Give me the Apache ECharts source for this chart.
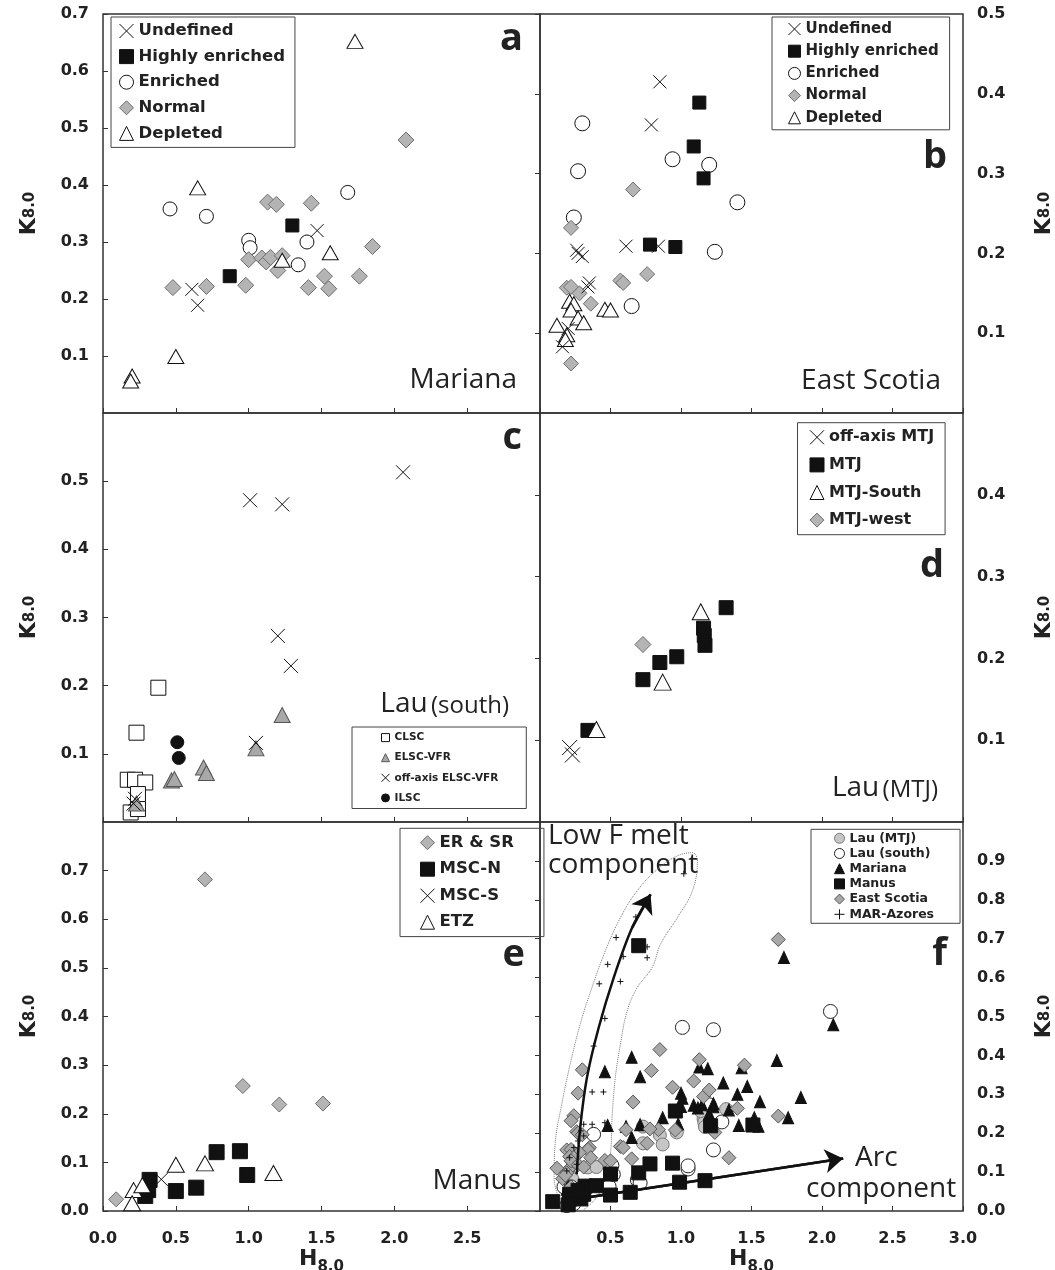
<!DOCTYPE html>
<html>
<head>
<meta charset="utf-8">
<script src="https://cdn.jsdelivr.net/npm/echarts@6/dist/echarts.min.js"></script>
<style>
  html, body { margin: 0; padding: 0; background: #fff; }
  #chart { width: 1055px; height: 1270px; }
</style>
</head>
<body>
<div id="chart"></div>
<script>
// ---- data: [H8.0, K8.0] pairs ----
// a - Mariana
const aUndefined = [[0.61,0.217],[0.65,0.189],[1.47,0.32]];
const aHighly = [[0.87,0.24],[1.30,0.329]];
const aEnriched = [[0.46,0.358],[0.71,0.345],[1.00,0.303],[1.01,0.29],[1.40,0.30],[1.34,0.26],[1.68,0.387]];
const aNormal = [[0.48,0.22],[0.71,0.222],[0.98,0.224],[1.00,0.269],[1.09,0.272],[1.12,0.265],[1.15,0.273],[1.23,0.276],
  [1.20,0.25],[1.13,0.37],[1.19,0.366],[1.43,0.368],[1.41,0.22],[1.52,0.24],[1.55,0.218],[1.76,0.24],[1.85,0.292],[2.08,0.479]];
const aDepleted = [[1.73,0.652],[0.65,0.395],[1.56,0.281],[1.23,0.268],[0.50,0.099],[0.20,0.065],[0.19,0.056]];

// b - East Scotia
const bUndefined = [[0.85,0.415],[0.79,0.361],[0.61,0.209],[0.84,0.209],[0.26,0.204],[0.27,0.200],[0.30,0.196],
  [0.35,0.163],[0.34,0.158],[0.20,0.106],[0.16,0.083]];
const bHighly = [[1.13,0.389],[1.09,0.334],[1.16,0.294],[0.78,0.211],[0.96,0.208]];
const bEnriched = [[0.30,0.363],[0.27,0.303],[0.94,0.318],[1.20,0.311],[1.40,0.264],[1.24,0.202],[0.65,0.134],[0.24,0.245]];
const bNormal = [[0.66,0.28],[0.22,0.232],[0.57,0.166],[0.59,0.163],[0.76,0.174],[0.19,0.157],[0.22,0.158],
  [0.28,0.15],[0.36,0.137],[0.22,0.062]];
const bDepleted = [[0.21,0.14],[0.24,0.137],[0.22,0.129],[0.27,0.119],[0.31,0.113],[0.12,0.11],[0.19,0.098],
  [0.18,0.092],[0.46,0.13],[0.50,0.129]];

// c - Lau (south)
const cCLSC = [[0.38,0.197],[0.23,0.131],[0.17,0.062],[0.22,0.062],[0.29,0.058],[0.24,0.041],[0.19,0.014],[0.24,0.019]];
const cELSC = [[1.23,0.157],[1.05,0.108],[0.69,0.08],[0.71,0.072],[0.47,0.061],[0.49,0.063],[0.23,0.027]];
const cOffAxis = [[1.01,0.472],[1.23,0.466],[2.06,0.513],[1.20,0.273],[1.29,0.229],[1.05,0.116],[0.22,0.034],[0.21,0.027]];
const cILSC = [[0.51,0.117],[0.52,0.094]];

// d - Lau (MTJ)
const dOffAxis = [[0.21,0.091],[0.23,0.082]];
const dMTJ = [[0.34,0.112],[0.73,0.174],[0.85,0.195],[0.97,0.202],[1.16,0.237],[1.165,0.228],[1.17,0.216],[1.32,0.262]];
const dSouth = [[0.40,0.113],[0.87,0.171],[1.14,0.257]];
const dWest = [[0.73,0.217]];

// e - Manus
const eERSR = [[0.70,0.682],[0.96,0.257],[1.21,0.219],[1.51,0.221],[0.09,0.024]];
const eMSCN = [[0.78,0.121],[0.94,0.123],[0.99,0.074],[0.64,0.048],[0.50,0.041],[0.32,0.064],[0.29,0.031],[0.31,0.043]];
const eMSCS = [[0.40,0.065]];
const eETZ = [[0.50,0.095],[0.70,0.098],[1.17,0.078],[0.21,0.043],[0.20,0.016],[0.27,0.053]];

// f - compilation
const fScotiaExtra = [[1.45,0.375],[1.69,0.698],[1.69,0.244],[1.34,0.137]];
const fAzores = [[1.02,0.867],[0.68,0.756],[0.54,0.703],[0.76,0.679],[0.76,0.651],[0.59,0.654],[0.48,0.634],
  [0.42,0.584],[0.57,0.59],[0.46,0.495],[0.38,0.424],[0.37,0.306],[0.45,0.306],[0.31,0.223],[0.37,0.223],
  [0.29,0.206],[0.31,0.193],[0.27,0.18],[0.24,0.163],[0.21,0.137],[0.26,0.12],[0.19,0.103],[0.46,0.227]];
const lowMeltArrow = [[0.26,0.094],[0.285,0.214],[0.333,0.343],[0.416,0.471],[0.523,0.60],[0.653,0.728],[0.784,0.814]];
const arcArrow = [[0.285,0.032],[2.15,0.135]];
const azoresOutline = [[0.166,0.004],[0.100,0.086],[0.107,0.171],[0.154,0.274],[0.214,0.377],[0.285,0.480],
  [0.368,0.574],[0.463,0.668],[0.570,0.754],[0.689,0.823],[0.831,0.878],[0.974,0.913],[1.081,0.921],[1.116,0.900],
  [1.081,0.823],[0.974,0.754],[0.855,0.686],[0.796,0.626],[0.689,0.574],[0.618,0.514],[0.570,0.428],[0.534,0.343],
  [0.511,0.240],[0.499,0.146],[0.451,0.069],[0.356,0.017],[0.238,-0.004],[0.166,0.004]];

const yMaxes = [0.7, 0.5, 0.6, 0.5, 0.8, 1.0];

// ---- styling ----
const FONT = '"DejaVu Sans", Verdana, sans-serif';
const SANS = '"Open Sans", "Noto Sans", sans-serif';
const INK = '#222';
const CROSS = 'path://M0,0L10,10M10,0L0,10';
const PLUS = 'path://M5,0L5,10M0,5L10,5';

// fixed panel boxes; outerBoundsMode off so v6 does not shrink them to fit names
const grids = [
  { left: 103, top: 14, width: 437, height: 399 },
  { left: 540, top: 14, width: 423, height: 399 },
  { left: 103, top: 413, width: 437, height: 409 },
  { left: 540, top: 413, width: 423, height: 409 },
  { left: 103, top: 822, width: 437, height: 389 },
  { left: 540, top: 822, width: 423, height: 389 }
].map(g => ({
  ...g, show: true, borderColor: '#333', borderWidth: 1.5, backgroundColor: 'transparent',
  containLabel: false, outerBoundsMode: 'none'
}));

const fmt = v => v.toFixed(1);
const kName = {
  rich: {
    k: { fontFamily: FONT, fontWeight: 'bold', fontSize: 22, color: INK, lineHeight: 26, verticalAlign: 'bottom' },
    s: { fontFamily: FONT, fontWeight: 'bold', fontSize: 15, color: INK, lineHeight: 26, verticalAlign: 'bottom', padding: [0, 0, 2, 0] }
  }
};
const hName = {
  rich: {
    h: { fontFamily: FONT, fontWeight: 'bold', fontSize: 22, color: INK, lineHeight: 27, verticalAlign: 'top' },
    s: { fontFamily: FONT, fontWeight: 'bold', fontSize: 15, color: INK, lineHeight: 27, verticalAlign: 'bottom' }
  }
};
const labelStyle = { color: INK, fontFamily: FONT, fontWeight: 'bold', fontSize: 16, formatter: fmt };

const xAxes = grids.map((g, i) => {
  const labelled = i >= 4;
  return {
    type: 'value', gridIndex: i, min: 0, max: 3, interval: 0.5,
    axisLine: { show: false }, splitLine: { show: false },
    axisTick: { show: true, inside: true, length: 5, lineStyle: { color: '#333' } },
    axisLabel: { show: labelled, margin: 20, ...labelStyle, showMinLabel: i !== 5, showMaxLabel: i !== 4 },
    name: labelled ? '{h|H}{s|8.0}' : '', nameLocation: 'middle', nameGap: 37, nameTextStyle: hName
  };
});

const yAxes = grids.map((g, i) => {
  const right = i % 2 === 1;
  return {
    type: 'value', gridIndex: i, min: 0, max: yMaxes[i], interval: 0.1,
    position: right ? 'right' : 'left',
    axisLine: { show: false }, splitLine: { show: false },
    axisTick: { show: true, inside: true, length: 5, lineStyle: { color: '#333' } },
    axisLabel: { show: true, margin: 14, ...labelStyle, showMinLabel: i >= 4, showMaxLabel: i < 2 },
    name: '{k|K}{s|8.0}', nameLocation: 'middle', nameRotate: 90, nameGap: right ? 66 : 63, nameTextStyle: kName
  };
});

function sc(name, idx, data, symbol, size, fill, stroke) {
  return {
    type: 'scatter', name, xAxisIndex: idx, yAxisIndex: idx, data, symbol, symbolSize: size,
    itemStyle: { color: fill, borderColor: stroke, borderWidth: 1, opacity: 1 },
    emphasis: { disabled: true }, silent: true
  };
}

const GRAY = '#b4b4b4', GRAY_LINE = '#6e6e6e';

const arrowMark = (from, to) => ({
  silent: true, symbol: ['none', 'arrow'], symbolSize: 18, label: { show: false },
  lineStyle: { type: 'solid', width: 2.5, color: '#111' },
  emphasis: { disabled: true },
  data: [[{ coord: from }, { coord: to }]]
});

const series = [
  // a
  sc('Enriched', 0, aEnriched, 'circle', 14, '#fff', '#111'),
  sc('Normal', 0, aNormal, 'diamond', 16, GRAY, GRAY_LINE),
  sc('Highly enriched', 0, aHighly, 'rect', 13, '#111', '#111'),
  sc('Depleted', 0, aDepleted, 'triangle', [16, 14], '#fff', '#111'),
  sc('Undefined', 0, aUndefined, CROSS, 13, '#111', '#111'),
  // b
  sc('Enriched', 1, bEnriched, 'circle', 15, '#fff', '#111'),
  sc('Normal', 1, bNormal, 'diamond', 15, GRAY, GRAY_LINE),
  sc('Highly enriched', 1, bHighly, 'rect', 13, '#111', '#111'),
  sc('Depleted', 1, bDepleted, 'triangle', [16, 14], '#fff', '#111'),
  sc('Undefined', 1, bUndefined, CROSS, 13, '#111', '#111'),
  // c
  sc('CLSC', 2, cCLSC, 'rect', 15, '#fff', '#111'),
  sc('ELSC-VFR', 2, cELSC, 'triangle', [16, 15], '#a8a8a8', '#555'),
  sc('off-axis ELSC-VFR', 2, cOffAxis, CROSS, 14, '#111', '#111'),
  sc('ILSC', 2, cILSC, 'circle', 13, '#111', '#111'),
  // d
  sc('MTJ-west', 3, dWest, 'diamond', 16, GRAY, GRAY_LINE),
  sc('MTJ', 3, dMTJ, 'rect', 14, '#111', '#111'),
  sc('MTJ-South', 3, dSouth, 'triangle', [17, 16], '#fff', '#111'),
  sc('off-axis MTJ', 3, dOffAxis, CROSS, 15, '#111', '#111'),
  // e
  sc('ER & SR', 4, eERSR, 'diamond', 15, GRAY, GRAY_LINE),
  sc('MSC-N', 4, eMSCN, 'rect', 15, '#111', '#111'),
  sc('MSC-S', 4, eMSCS, CROSS, 13, '#111', '#111'),
  sc('ETZ', 4, eETZ, 'triangle', [17, 15], '#fff', '#111'),
  // f
  sc('Lau (MTJ)', 5, [...dOffAxis, ...dMTJ, ...dSouth, ...dWest], 'circle', 13, '#c6c6c6', '#777'),
  sc('Lau (south)', 5, [...cCLSC, ...cELSC, ...cOffAxis, ...cILSC], 'circle', 14, '#fff', '#222'),
  sc('Mariana', 5, [...aUndefined, ...aHighly, ...aEnriched, ...aNormal, ...aDepleted], 'triangle', [11, 12], '#111', '#111'),
  sc('East Scotia', 5, [...bUndefined, ...bHighly, ...bEnriched, ...bNormal, ...bDepleted, ...fScotiaExtra], 'diamond', 14, '#a8a8a8', '#555'),
  sc('Manus', 5, [...eERSR, ...eMSCN, ...eMSCS, ...eETZ], 'rect', 14, '#111', '#111'),
  sc('MAR-Azores', 5, fAzores, PLUS, 6, '#111', '#111'),
  {
    type: 'line', xAxisIndex: 5, yAxisIndex: 5, data: azoresOutline, smooth: 0.4, symbol: 'none', silent: true,
    lineStyle: { type: 'dotted', width: 1, color: '#777' }, z: 1
  },
  {
    type: 'line', xAxisIndex: 5, yAxisIndex: 5, data: lowMeltArrow, smooth: 0.3, symbol: 'none', silent: true,
    lineStyle: { width: 2.5, color: '#111' }, z: 3,
    markLine: arrowMark(lowMeltArrow[lowMeltArrow.length - 2], lowMeltArrow[lowMeltArrow.length - 1])
  },
  {
    type: 'line', xAxisIndex: 5, yAxisIndex: 5, data: arcArrow, symbol: 'none', silent: true, z: 3,
    lineStyle: { width: 2.5, color: '#111' },
    markLine: arrowMark(arcArrow[0], arcArrow[1])
  }
];

function legendBox(names, left, top, o) {
  return {
    orient: 'vertical', left, top, data: names, selectedMode: false,
    itemWidth: o.icon, itemHeight: o.icon, itemGap: o.gap, padding: o.pad,
    borderColor: '#444', borderWidth: 1, borderRadius: 0,
    itemStyle: { borderWidth: 1 },
    textStyle: { fontFamily: FONT, fontWeight: 'bold', fontSize: o.fs, lineHeight: o.lh, color: INK }
  };
}
const fiveTypes = ['Undefined', 'Highly enriched', 'Enriched', 'Normal', 'Depleted'];
const legends = [
  legendBox(fiveTypes, 111, 17, { icon: 14, gap: 7.6, pad: [5, 10, 5, 8], fs: 16.5, lh: 18 }),
  legendBox(fiveTypes, 772, 17, { icon: 12, gap: 6.2, pad: [4, 11, 4, 16], fs: 15, lh: 16 }),
  legendBox(['CLSC', 'ELSC-VFR', 'off-axis ELSC-VFR', 'ILSC'], 352, 727, { icon: 8, gap: 8.1, pad: [4.6, 28, 4.6, 29], fs: 10.5, lh: 12 }),
  legendBox(['off-axis MTJ', 'MTJ', 'MTJ-South', 'MTJ-west'], 797.5, 422.7, { icon: 14, gap: 9.6, pad: [5.6, 11, 5.6, 12], fs: 16, lh: 18 }),
  legendBox(['ER & SR', 'MSC-N', 'MSC-S', 'ETZ'], 400, 828.3, { icon: 14, gap: 8.5, pad: [5.4, 30, 5.4, 20], fs: 16.5, lh: 18 }),
  legendBox(['Lau (MTJ)', 'Lau (south)', 'Mariana', 'Manus', 'East Scotia', 'MAR-Azores'], 811, 829.3, { icon: 10, gap: 2.2, pad: [2.5, 26, 2.5, 23], fs: 12.5, lh: 13 })
];

function txt(text, x, y, size, weight, align) {
  return {
    type: 'text', x, y, silent: true,
    style: { text, fill: INK, font: `${weight} ${size}px ${SANS}`, align: align || 'right', verticalAlign: 'middle' }
  };
}
function regionName(big, small, x, y) {
  return {
    type: 'text', x, y, silent: true,
    style: {
      text: `{a|${big}} {b|${small}}`, align: 'right', verticalAlign: 'middle',
      rich: {
        a: { fontFamily: SANS, fontSize: 28, fill: INK, color: INK, verticalAlign: 'bottom', lineHeight: 30 },
        b: { fontFamily: SANS, fontSize: 24, fill: INK, color: INK, verticalAlign: 'bottom', lineHeight: 30 }
      }
    }
  };
}
const graphic = [
  txt('a', 523, 39, 38, 'bold'),
  txt('b', 947, 157, 38, 'bold'),
  txt('c', 522, 438, 38, 'bold'),
  txt('d', 944, 566, 38, 'bold'),
  txt('e', 525, 955, 38, 'bold'),
  txt('f', 947, 954, 38, 'bold'),
  txt('Mariana', 517, 380, 28, 'normal'),
  txt('East Scotia', 941, 381, 28, 'normal'),
  txt('Manus', 521, 1181, 28, 'normal'),
  regionName('Lau', '(south)', 509, 703),
  regionName('Lau', '(MTJ)', 938, 787),
  txt('Low F melt', 548, 836, 28, 'normal', 'left'),
  txt('component', 548, 865, 28, 'normal', 'left'),
  txt('Arc', 855, 1158, 28, 'normal', 'left'),
  txt('component', 806, 1189, 28, 'normal', 'left')
];

const chart = echarts.init(document.getElementById('chart'));
chart.setOption({
  animation: false,
  backgroundColor: '#fff',
  grid: grids,
  xAxis: xAxes,
  yAxis: yAxes,
  legend: legends,
  series,
  graphic
});
</script>
</body>
</html>
